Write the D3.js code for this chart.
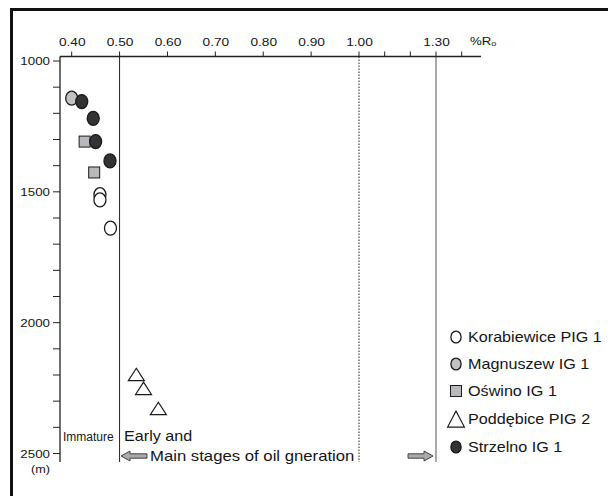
<!DOCTYPE html>
<html><head><meta charset="utf-8">
<script src="https://cdn.jsdelivr.net/npm/d3@7"></script>
<style>
html,body{margin:0;padding:0;background:#fff;}
svg{display:block;font-family:"Liberation Sans",Arial,Helvetica,sans-serif;}
</style></head>
<body>
<svg id="c" width="608" height="496"></svg>
<script>
// ---- data ----
const series = ["Korabiewice PIG 1","Magnuszew IG 1","Oświno IG 1","Poddębice PIG 2","Strzelno IG 1"];
const korabiewiceRo = [0.459, 0.459, 0.481];
const korabiewiceDepth = [1511, 1531, 1639];
const magnuszewRo = [0.400];
const magnuszewDepth = [1142];
const oswinoRo = [0.427, 0.447];
const oswinoDepth = [1308, 1426];
const poddebiceRo = [0.535, 0.550, 0.581];
const poddebiceDepth = [2198, 2251, 2328];
const strzelnoRo = [0.421, 0.445, 0.450, 0.480];
const strzelnoDepth = [1155, 1219, 1308, 1382];
const xTicks = [0.4,0.5,0.6,0.7,0.8,0.9,1.0,1.1,1.2,1.3,1.4];
const xTickLabels = {"0.4":"0.40","0.5":"0.50","0.6":"0.60","0.7":"0.70","0.8":"0.80","0.9":"0.90","1":"1.00","1.3":"1.30"};
const yTicks = d3.range(1000, 2501, 100);
const yTickLabels = [1000,1500,2000,2500];
const zoneBounds = [0.5, 1.0, 1.3];

// ---- layout ----
const svg = d3.select("#c");
const x = d3.scaleLinear().domain([0.3756, 1.0, 1.3, 1.475]).range([60, 359, 436, 481]);
const y = d3.scaleLinear().domain([1000, 2500]).range([61, 453.5]);
const yTop = 56.5, yBot = 462;
const ink = "#151515";

// stretched text helper (reference glyphs are horizontally wide)
function stext(px, py, str, size, anchor, sx, dy){
  const g = svg.append("g").attr("transform", `translate(${px},${py}) scale(${sx},1)`);
  const t = g.append("text").attr("x",0).attr("y",0).attr("font-size",size)
    .attr("text-anchor",anchor||"start").attr("fill",ink);
  if(dy) t.attr("dy",dy);
  t.text(str);
  return t;
}

// outer frame
svg.append("rect").attr("x",11.5).attr("y",9.5).attr("width",700).attr("height",600)
  .attr("fill","none").attr("stroke","#111").attr("stroke-width",3);

// zone lines
zoneBounds.forEach((v,i)=>{
  svg.append("line").attr("x1",x(v)).attr("x2",x(v)).attr("y1",yTop).attr("y2",yBot)
    .attr("stroke", i===2 ? "#555" : "#222").attr("stroke-width",1)
    .attr("stroke-dasharray", i===1 ? "1.5,1.5" : null);
});

// x axis (top)
svg.append("line").attr("x1",60).attr("x2",481).attr("y1",yTop).attr("y2",yTop)
  .attr("stroke","#222").attr("stroke-width",1.3);
xTicks.forEach(t=>{
  svg.append("line").attr("x1",x(t)).attr("x2",x(t)).attr("y1",yTop-5).attr("y2",yTop)
    .attr("stroke","#222").attr("stroke-width",1);
  const lab = xTickLabels[String(+t.toFixed(1))];
  if(lab) stext(x(t)+0.5, 46, lab, 11.8, "middle", 1.16);
});
const ro = stext(470, 45, "", 11.5, "start", 1.15);
ro.append("tspan").text("%R");
ro.append("tspan").attr("font-size",8).attr("dy",1).text("o");

// y axis (left)
svg.append("line").attr("x1",60).attr("x2",60).attr("y1",yTop).attr("y2",yBot)
  .attr("stroke","#222").attr("stroke-width",1.3);
yTicks.forEach(t=>{
  svg.append("line").attr("x1",53).attr("x2",60).attr("y1",y(t)).attr("y2",y(t))
    .attr("stroke","#222").attr("stroke-width",1);
});
yTickLabels.forEach(t=>{
  stext(50, y(t), String(t), 11.8, "end", 1.13, "0.36em");
});
stext(40.5, 473, "(m)", 11, "middle", 1.15);

// ---- markers ----
const styles = {
  "Korabiewice PIG 1": {shape:"circle", fill:"#fff"},
  "Magnuszew IG 1": {shape:"circle", fill:"#c2c2c4"},
  "Oświno IG 1": {shape:"square", fill:"#b9b9bd"},
  "Poddębice PIG 2": {shape:"triangle", fill:"#fff"},
  "Strzelno IG 1": {shape:"circle", fill:"#333"}
};
function marker(g, shape, cx, cy, s, hs){
  const st = "#1a1a1a";
  if(shape==="circle"){
    g.append("ellipse").attr("cx",cx).attr("cy",cy).attr("rx",6*s).attr("ry",7*s)
      .attr("stroke",st).attr("stroke-width",1.3);
  } else if(shape==="square"){
    g.append("rect").attr("x",cx-5.5*s).attr("y",cy-5.5*s).attr("width",11*s).attr("height",11*s)
      .attr("stroke",st).attr("stroke-width",1);
  } else {
    const w=8*s, h=6.2*(hs||s);
    g.append("path").attr("d",`M${cx},${cy-h}L${cx+w},${cy+h}L${cx-w},${cy+h}Z`)
      .attr("stroke",st).attr("stroke-width",1.2).attr("stroke-linejoin","miter");
  }
}
const dataSets = [
  ["Magnuszew IG 1", magnuszewRo, magnuszewDepth],
  ["Oświno IG 1", oswinoRo, oswinoDepth],
  ["Strzelno IG 1", strzelnoRo, strzelnoDepth],
  ["Korabiewice PIG 1", korabiewiceRo, korabiewiceDepth],
  ["Poddębice PIG 2", poddebiceRo, poddebiceDepth]
];
dataSets.forEach(([name, xs, ys])=>{
  const g = svg.append("g").attr("fill", styles[name].fill);
  xs.forEach((v,i)=> marker(g, styles[name].shape, x(v), y(ys[i]), 1));
});

// ---- annotations ----
stext(63, 441, "Immature", 12, "start", 1.0);
stext(124, 441, "Early and", 14.3, "start", 1.13);
stext(150, 461, "Main stages of oil gneration", 14.3, "start", 1.17);
function arrow(x0, x1, yy){
  const dir = Math.sign(x1-x0);
  const hl = 9, hw = 5, sw = 2.2;
  const xb = x1 - dir*hl;
  svg.append("path").attr("d",
    `M${x0},${yy-sw}L${xb},${yy-sw}L${xb},${yy-hw}L${x1},${yy}L${xb},${yy+hw}L${xb},${yy+sw}L${x0},${yy+sw}Z`)
    .attr("fill","#aaa").attr("stroke","#333").attr("stroke-width",0.9);
}
arrow(147, 121, 456);
arrow(408, 433, 456);

// ---- legend ----
const legY = [337, 364, 391, 419, 447];
series.forEach((name,i)=>{
  const g = svg.append("g").attr("fill", styles[name].fill);
  const shp = styles[name].shape;
  const s = shp==="circle" ? 0.85 : (shp==="triangle" ? 1.05 : 1);
  marker(g, shp, 456, legY[i], s, shp==="triangle" ? 1.3 : undefined);
  stext(468, legY[i], name, 14.3, "start", 1.13, "0.36em");
});
</script>
</body></html>
